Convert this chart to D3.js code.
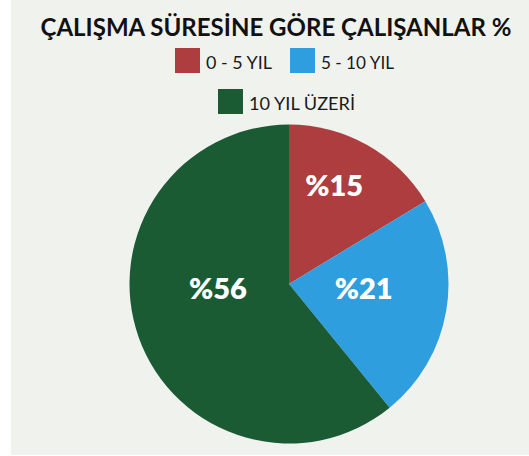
<!DOCTYPE html>
<html>
<head>
<meta charset="utf-8">
<script src="https://cdn.jsdelivr.net/npm/d3@7"></script>
<style>
  html, body { margin: 0; padding: 0; background: #ffffff; }
  svg { display: block; }
  text { font-family: Lato, "Noto Sans", sans-serif; }
</style>
</head>
<body>
<svg id="chart" width="529" height="456"></svg>
<script>
// Employees by length of service (%)
const categories = ["0 - 5 YIL", "5 - 10 YIL", "10 YIL ÜZERİ"];
const values = [15, 21, 56];
const colors = ["#ad3d3f", "#2f9ede", "#1a5b34"];
const title = "ÇALIŞMA SÜRESİNE GÖRE ÇALIŞANLAR %";

const W = 529, H = 456;
const svg = d3.select("#chart");

// panel background
svg.append("rect")
  .attr("x", 11).attr("y", 0)
  .attr("width", W - 11).attr("height", 455)
  .attr("fill", "#f0f2ee");

// title
svg.append("text")
  .attr("x", 276).attr("y", 36)
  .attr("text-anchor", "middle")
  .attr("font-size", 25)
  .attr("font-weight", 700)
  .attr("fill", "#111111")
  .attr("textLength", 471)
  .attr("lengthAdjust", "spacingAndGlyphs")
  .text(title);

// legend: two items on the first row, one on the second
const legendRows = [
  { y: 48, items: [{ i: 0, x: 175, w: 66 }, { i: 1, x: 290, w: 73 }] },
  { y: 89, items: [{ i: 2, x: 218, w: 106 }] }
];
legendRows.forEach(row => {
  row.items.forEach(it => {
    const g = svg.append("g").attr("transform", `translate(${it.x},${row.y})`);
    g.append("rect")
      .attr("width", 25).attr("height", 25)
      .attr("fill", colors[it.i]);
    g.append("text")
      .attr("x", 31).attr("y", 21)
      .attr("font-size", 18)
      .attr("fill", "#1a1a1a")
      .attr("textLength", it.w)
      .attr("lengthAdjust", "spacingAndGlyphs")
      .text(categories[it.i]);
  });
});

// pie
const cx = 289, cy = 284, r = 159.5;
const pie = d3.pie().sort(null).value(d => d)(values);
const arc = d3.arc().innerRadius(0).outerRadius(r);
const g = svg.append("g").attr("transform", `translate(${cx},${cy})`);

g.selectAll("path.slice")
  .data(pie)
  .join("path")
  .attr("class", "slice")
  .attr("d", arc)
  .attr("fill", (d, i) => colors[i]);

// value labels: placed at the slice centroid, then shifted slightly
const nudge = [[6, -30], [-4, -10], [4, -23]];
g.selectAll("text.val")
  .data(pie)
  .join("text")
  .attr("class", "val")
  .attr("transform", (d, i) => {
    const c = arc.centroid(d);
    return `translate(${c[0] + nudge[i][0]},${c[1] + nudge[i][1]})`;
  })
  .attr("text-anchor", "middle")
  .attr("dominant-baseline", "central")
  .attr("font-size", 29)
  .attr("font-weight", 800)
  .attr("fill", "#ffffff")
  .text(d => "%" + d.value);
</script>
</body>
</html>
